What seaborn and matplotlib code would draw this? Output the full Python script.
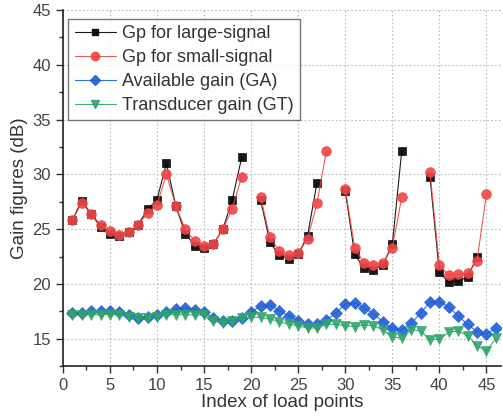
import numpy as np
import pandas as pd
import matplotlib
matplotlib.use("Agg")
import matplotlib.pyplot as plt
import seaborn as sns
from matplotlib.lines import Line2D

nan = np.nan
idx = list(range(1, 47))
gp_large = [25.8, 27.6, 26.4, 25.2, 24.6, 24.4, 24.7, 25.4, 26.8, 27.7,
            31.0, 27.1, 24.6, 23.5, 23.3, 23.65, 25.0, 27.7, 31.55, nan,
            27.7, 23.8, 22.6, 22.3, 22.7, 24.4, 29.25, nan, nan, 28.5,
            22.7, 21.45, 21.3, 21.75, 23.6, 32.1, nan, nan, 29.8, 21.05,
            20.15, 20.3, 20.6, 22.5, nan, nan]
gp_small = [25.8, 27.4, 26.4, 25.4, 24.8, 24.5, 24.7, 25.4, 26.45, 27.2,
            30.0, 27.1, 25.0, 23.9, 23.5, 23.65, 25.0, 26.85, 29.8, nan,
            27.95, 24.25, 23.0, 22.6, 22.8, 24.1, 27.35, 32.15, nan, 28.7,
            23.3, 21.9, 21.75, 21.9, 23.3, 27.9, nan, nan, 30.2, 21.7,
            20.8, 20.9, 20.95, 22.1, 28.2, nan]
ga = [17.33, 17.33, 17.5, 17.55, 17.5, 17.4, 17.2, 16.9, 16.95, 17.15,
      17.4, 17.7, 17.8, 17.65, 17.4, 16.9, 16.6, 16.65, 16.85, 17.4,
      18.0, 18.08, 17.57, 17.08, 16.65, 16.31, 16.31, 16.72, 17.33, 18.18,
      18.24, 17.84, 17.26, 16.56, 15.95, 15.8, 16.4, 17.33, 18.33, 18.39,
      17.87, 17.08, 16.31, 15.64, 15.43, 15.95]
gt = [17.2, 17.15, 17.2, 17.2, 17.2, 17.15, 17.0, 16.85, 16.85, 17.0,
      17.2, 17.2, 17.2, 17.15, 17.15, 16.6, 16.45, 16.6, 16.85, 16.95,
      16.95, 16.8, 16.56, 16.31, 16.19, 15.95, 16.01, 16.31, 16.31, 16.16,
      16.1, 16.25, 16.19, 15.8, 15.18, 15.03, 15.8, 15.73, 14.88, 14.97,
      15.58, 15.7, 15.28, 14.36, 13.87, 15.03]

series_names = ["Gp for large-signal", "Gp for small-signal",
                "Available gain (GA)", "Transducer gain (GT)"]
series_vals = [gp_large, gp_small, ga, gt]

rows = []
for name, vals in zip(series_names, series_vals):
    seg = 0
    prev_nan = True
    for i, v in zip(idx, vals):
        if np.isnan(v):
            prev_nan = True
            continue
        if prev_nan:
            seg += 1
            prev_nan = False
        rows.append({"idx": i, "gain": v, "series": name, "seg": f"{name}-{seg}"})
df = pd.DataFrame(rows)

sns.set_style("ticks")
plt.rcParams["font.family"] = ["Liberation Sans", "DejaVu Sans"]

colors = {"Gp for large-signal": "#000000", "Gp for small-signal": "#f04545",
          "Available gain (GA)": "#1f5fd6", "Transducer gain (GT)": "#2fa56a"}
markers = {"Gp for large-signal": "s", "Gp for small-signal": "o",
           "Available gain (GA)": "D", "Transducer gain (GT)": "v"}
msize = {"Gp for large-signal": 6.0, "Gp for small-signal": 7.0,
         "Available gain (GA)": 6.0, "Transducer gain (GT)": 7.0}

fig = plt.figure(figsize=(5.03, 4.16), dpi=100)
ax = fig.add_axes([0.125, 0.12, 0.872, 0.856])

for name in series_names:
    sub = df[df["series"] == name]
    sns.lineplot(data=sub, x="idx", y="gain", units="seg", estimator=None,
                 color=colors[name], marker=markers[name], markersize=msize[name],
                 markeredgecolor=colors[name], markeredgewidth=0.5,
                 linewidth=0.8, alpha=0.9, ax=ax, legend=False)

ax.set_xlim(0, 46.6)
ax.set_ylim(12.5, 45)
ax.set_xticks(range(0, 46, 5))
ax.set_yticks(range(15, 46, 5))
ax.set_xticks(np.arange(2.5, 46, 5), minor=True)
ax.set_yticks(np.arange(12.5, 45, 5), minor=True)
ax.tick_params(axis="both", which="major", direction="out", length=5, width=1,
               labelsize=12, colors="#333333", labelcolor="#444444")
ax.tick_params(axis="both", which="minor", direction="out", length=3, width=1,
               colors="#333333")
ax.grid(True, which="major", linestyle=(0, (1.5, 2)), color="#bbbbbb", linewidth=0.8)
for side in ["top", "right"]:
    ax.spines[side].set_visible(False)
for side in ["left", "bottom"]:
    ax.spines[side].set_color("#222222")
    ax.spines[side].set_linewidth(1.2)

ax.set_xlabel("Index of load points", fontsize=13.5, color="#333333", labelpad=1)
ax.set_ylabel("Gain figures (dB)", fontsize=13.5, color="#333333", labelpad=3)

handles = [Line2D([], [], color=colors[n], marker=markers[n], markersize=msize[n] - 1,
                  markeredgecolor=colors[n], linewidth=0.8, alpha=0.9)
           for n in series_names]
leg = ax.legend(handles, series_names, loc="upper left", bbox_to_anchor=(0.0, 0.99),
                fontsize=13, frameon=True, fancybox=False, handlelength=2.3,
                handletextpad=0.3, borderpad=0.35, labelspacing=0.38,
                borderaxespad=0.3)
leg.get_frame().set_edgecolor("#555555")
leg.get_frame().set_linewidth(1.0)
for t in leg.get_texts():
    t.set_color("#333333")

fig.savefig("out.png", dpi=100)
